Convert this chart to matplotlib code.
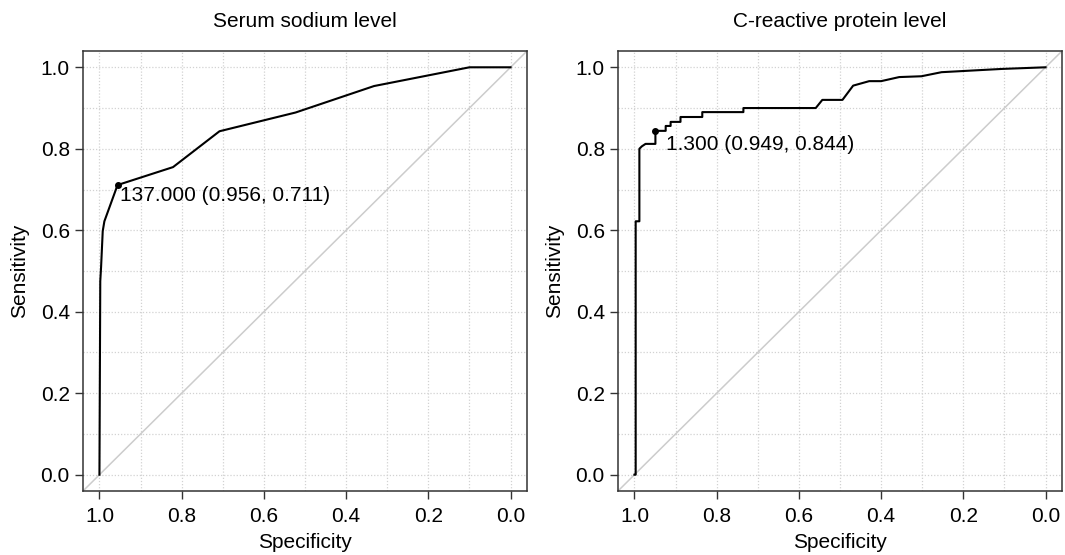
import numpy as np
import matplotlib.pyplot as plt

plt.rcParams['font.family'] = ['Liberation Sans', 'DejaVu Sans']

#Datos:
titulos = ['Serum sodium level', 'C-reactive protein level']

#Sodio:
spec_na = [1.0, 0.998, 0.996, 0.992, 0.988, 0.956, 0.821, 0.708, 0.523, 0.332, 0.1, 0.0]
sens_na = [0.0, 0.475, 0.51, 0.598, 0.622, 0.711, 0.755, 0.843, 0.889, 0.954, 1.0, 1.0]
umbral_na = 137.000
punto_na = (0.956, 0.711)

#PCR:
spec_pcr = [1.0, 0.997, 0.997, 0.988, 0.988, 0.982, 0.973, 0.949, 0.949, 0.924, 0.924,
            0.912, 0.912, 0.888, 0.888, 0.835, 0.835, 0.735, 0.735, 0.559, 0.543, 0.494,
            0.468, 0.429, 0.4, 0.356, 0.302, 0.253, 0.106, 0.0]
sens_pcr = [0.0, 0.0, 0.622, 0.622, 0.80, 0.806, 0.812, 0.812, 0.844, 0.844, 0.856,
            0.856, 0.866, 0.866, 0.878, 0.878, 0.89, 0.89, 0.90, 0.90, 0.92, 0.92,
            0.955, 0.966, 0.966, 0.976, 0.978, 0.988, 0.996, 1.0]
umbral_pcr = 1.300
punto_pcr = (0.949, 0.844)

curvas = [(spec_na, sens_na, umbral_na, punto_na, (1.5, -1)),
          (spec_pcr, sens_pcr, umbral_pcr, punto_pcr, (7.5, -3))]

ticks = [0.0, 0.2, 0.4, 0.6, 0.8, 1.0]
rejilla = np.arange(0, 11)/10

#Grafica:
fig = plt.figure(figsize=(10.65, 5.55), dpi=100)
posiciones = [[83/1065, 64/555, 444/1065, 440/555],
              [618/1065, 64/555, 444/1065, 440/555]]

for pos, titulo, (sp, se, thr, pt, off) in zip(posiciones, titulos, curvas):
    ax = fig.add_axes(pos)
    for g in rejilla:
        ax.axvline(g, color='#d2d2d2', lw=0.9, ls=(0, (1, 1.5)), zorder=0)
        ax.axhline(g, color='#d2d2d2', lw=0.9, ls=(0, (1, 1.5)), zorder=0)
    ax.plot([1.04, -0.04], [-0.04, 1.04], color='#cccccc', lw=1.1, zorder=1)
    ax.plot(sp, se, color='black', lw=1.5, zorder=2)
    ax.plot(pt[0], pt[1], 'o', color='black', ms=4, zorder=3)
    ax.annotate(f'{thr:.3f} ({pt[0]:.3f}, {pt[1]:.3f})', xy=pt, xytext=off,
                textcoords='offset points', ha='left', va='top', fontsize=15)
    ax.set_xlim(1.04, -0.04)
    ax.set_ylim(-0.04, 1.04)
    ax.set_xticks(ticks)
    ax.set_yticks(ticks)
    ax.set_xticklabels([f'{t:.1f}' for t in ticks])
    ax.set_yticklabels([f'{t:.1f}' for t in ticks])
    ax.tick_params(direction='out', length=5.5, width=1.0, color='#333333',
                   labelsize=15)
    ax.tick_params(axis='x', pad=6)
    ax.tick_params(axis='y', pad=4)
    for s in ax.spines.values():
        s.set_color('#333333')
        s.set_linewidth(1.1)
    ax.set_xlabel('Specificity', fontsize=15, labelpad=5)
    ax.set_ylabel('Sensitivity', fontsize=15, labelpad=8)
    ax.set_title(titulo, fontsize=15, pad=17)

plt.savefig('out.png', dpi=100)
